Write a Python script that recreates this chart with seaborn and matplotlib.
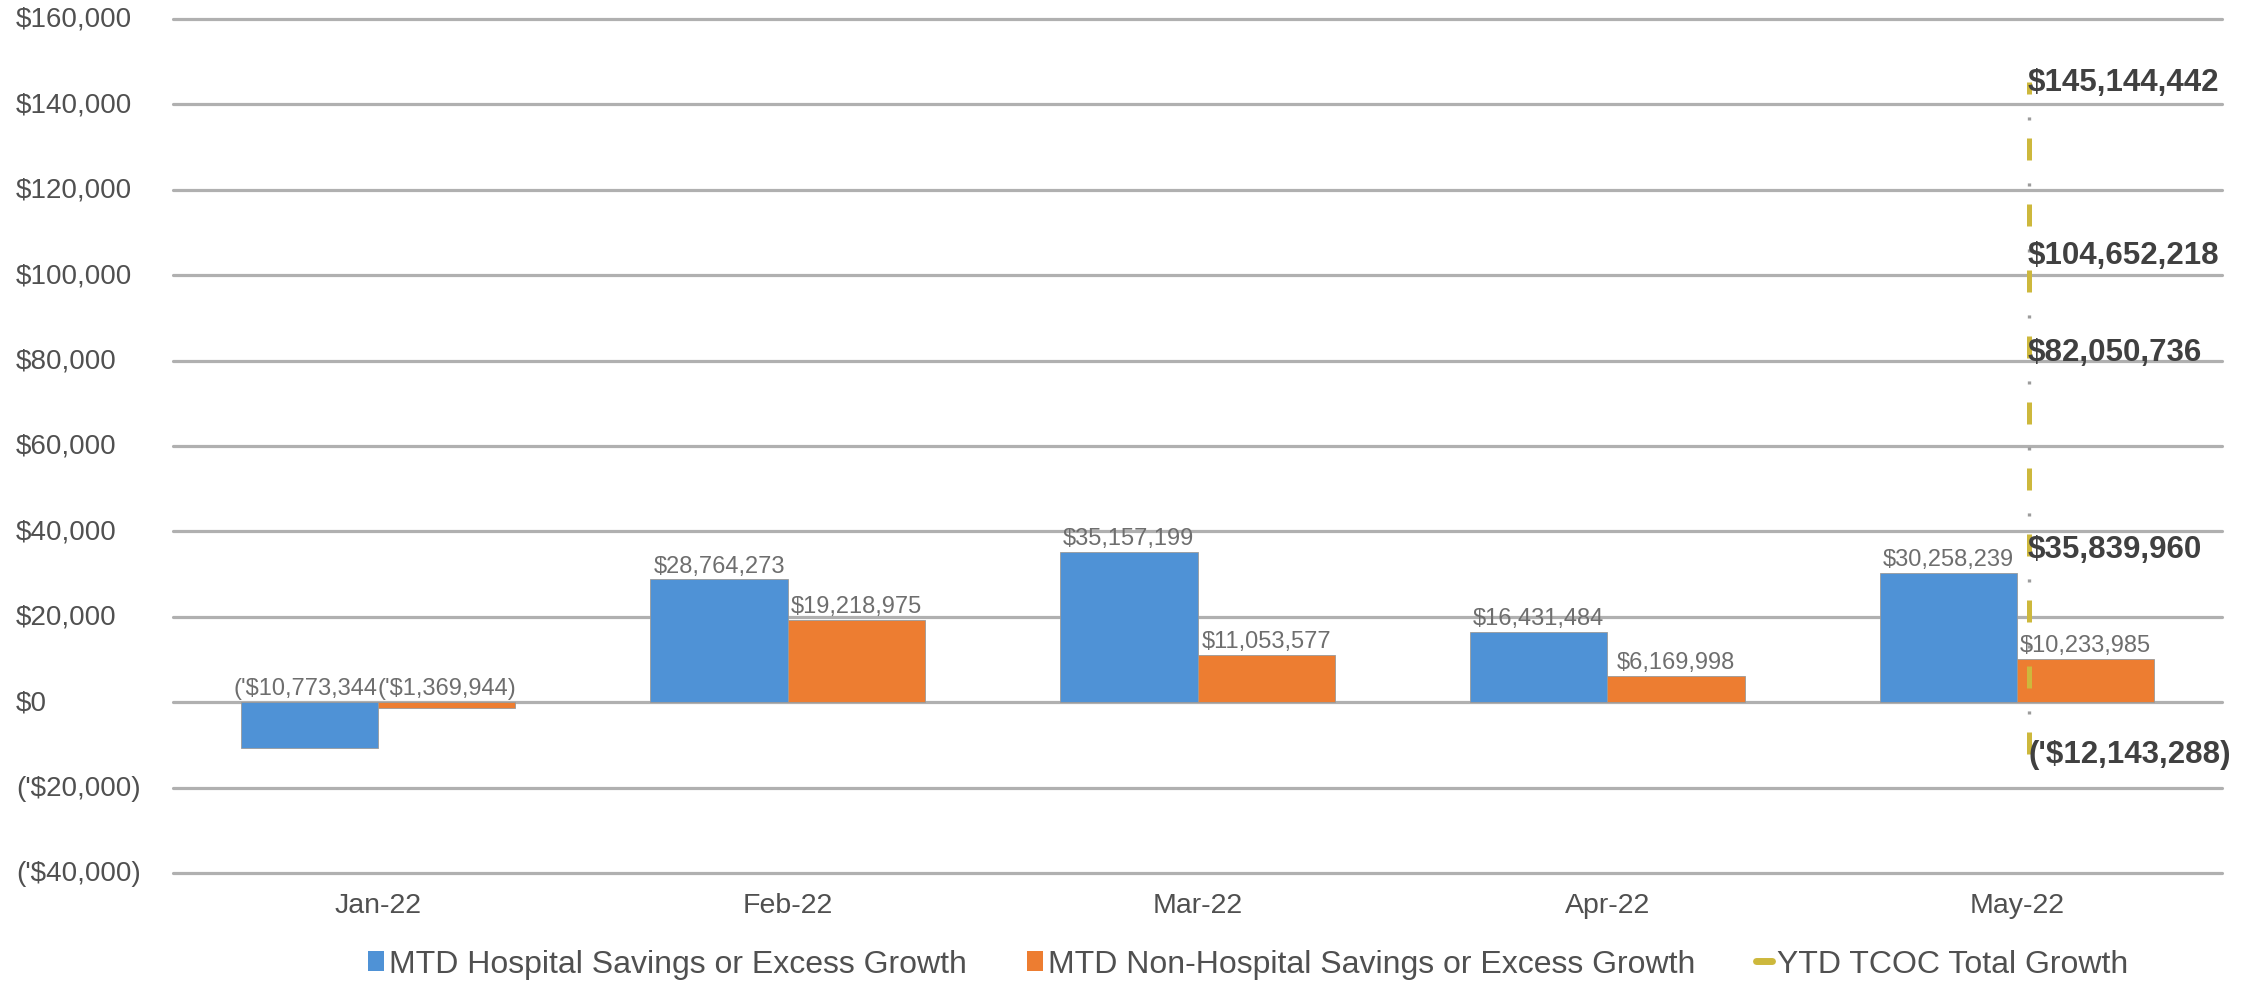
import matplotlib
matplotlib.use("Agg")
import matplotlib.pyplot as plt
from matplotlib.patches import Patch
from matplotlib.lines import Line2D
from matplotlib.transforms import blended_transform_factory
import seaborn as sns
import pandas as pd

# ---- data (dollars) ----
months = ["Jan-22", "Feb-22", "Mar-22", "Apr-22", "May-22"]
hospital = [-10773344, 28764273, 35157199, 16431484, 30258239]
non_hospital = [-1369944, 19218975, 11053577, 6169998, 10233985]
ytd_total = [-12143288, 35839960, 82050736, 104652218, 145144442]
series_names = ["MTD Hospital Savings or Excess Growth",
                "MTD Non-Hospital Savings or Excess Growth",
                "YTD TCOC Total Growth"]
y_ticks = [-40000, -20000, 0, 20000, 40000, 60000, 80000, 100000, 120000, 140000, 160000]

BLUE = "#4F92D6"
ORANGE = "#ED7D31"
GOLD = "#CDB83C"
TXT = "#505050"

sns.set_theme(style="white")
plt.rcParams["font.family"] = ["Liberation Sans", "DejaVu Sans"]


def money(v):
    v = int(round(v))
    if v < 0:
        return "('${:,})".format(-v)
    return "${:,}".format(v)


df = pd.DataFrame({
    "month": months * 2,
    "value": [v / 1000 for v in hospital] + [v / 1000 for v in non_hospital],
    "series": [series_names[0]] * 5 + [series_names[1]] * 5,
})

fig = plt.figure(figsize=(22.61, 9.87), dpi=100)
ax = fig.add_axes([173 / 2261, 1 - 874 / 987, (2222 - 173) / 2261, (874 - 20) / 987])

sns.barplot(data=df, x="month", y="value", hue="series", order=months,
            hue_order=series_names[:2], palette=[BLUE, ORANGE], width=0.67,
            saturation=1, legend=False, ax=ax, edgecolor="#9a9a9a", linewidth=0.6, zorder=3)

# bar labels
for cont, vals in zip(ax.containers, [hospital, non_hospital]):
    for rect, v in zip(cont, vals):
        cx = rect.get_x() + rect.get_width() / 2
        top = rect.get_height() if v >= 0 else 0
        kw = {}
        if v < 0:
            kw["bbox"] = dict(facecolor="white", edgecolor="none", pad=0.3)
        ax.annotate(money(v), (cx, top), xytext=(0, 2), textcoords="offset points",
                    ha="center", va="bottom", fontsize=17, color="#6e6e6e", zorder=6, **kw)

# YTD cumulative line (all points drawn at the May position): gold dashes + grey dots
x_line = 4.03
ytd_k = [v / 1000 for v in ytd_total]
lw1, lw2 = 3.6, 2.4
period = (4.4 + 8.8) * lw1
ax.plot([x_line] * len(ytd_k), ytd_k, color=GOLD, linewidth=lw1,
        linestyle=(0, (4.4, 8.8)), zorder=5, solid_capstyle="butt")
dot = 2.2
ax.plot([x_line] * len(ytd_k), ytd_k, color="#9c9c9c", linewidth=lw2,
        linestyle=((period - 8.0 * lw1) / lw2, (dot / lw2, (period - dot) / lw2)),
        zorder=5, solid_capstyle="butt")
for v, yk in zip(ytd_total, ytd_k):
    ax.annotate(money(v), (x_line, yk), xytext=(-1, 0), textcoords="offset points",
                ha="left", va="center", fontsize=22.5, fontweight="bold", color="#404040", zorder=7)

ax.set_xlim(-0.5, 4.5)
ax.set_ylim(-40000, 160000)
ax.set_yticks(y_ticks)
ax.grid(False)
for yv in y_ticks:
    ax.axhline(yv, color="#b0b0b0", linewidth=2.3, zorder=0, clip_on=False)
for s in ax.spines.values():
    s.set_visible(False)
ax.set_xlabel("")
ax.set_ylabel("")

# y tick labels: left-aligned near the left edge of the figure
ax.tick_params(axis="y", length=0, labelleft=False)
ytrans = blended_transform_factory(fig.transFigure, ax.transData)
for yv in y_ticks:
    ax.text(16 / 2261, yv, money(yv), transform=ytrans, ha="left", va="center",
            fontsize=20, color=TXT, clip_on=False)

ax.tick_params(axis="x", length=0, pad=14, labelsize=20.5, labelcolor=TXT)

handles = [Patch(facecolor=BLUE, edgecolor="none"),
           Patch(facecolor=ORANGE, edgecolor="none"),
           Line2D([0], [0], color=GOLD, linewidth=5)]
fig.legend(handles, series_names, loc="center", bbox_to_anchor=(0.552, 0.0223),
           ncol=3, frameon=False, fontsize=23, labelcolor=TXT,
           handlelength=0.5, handleheight=0.6, handletextpad=0.15, columnspacing=1.9)

fig.savefig("out.png", dpi=100, facecolor="white")
